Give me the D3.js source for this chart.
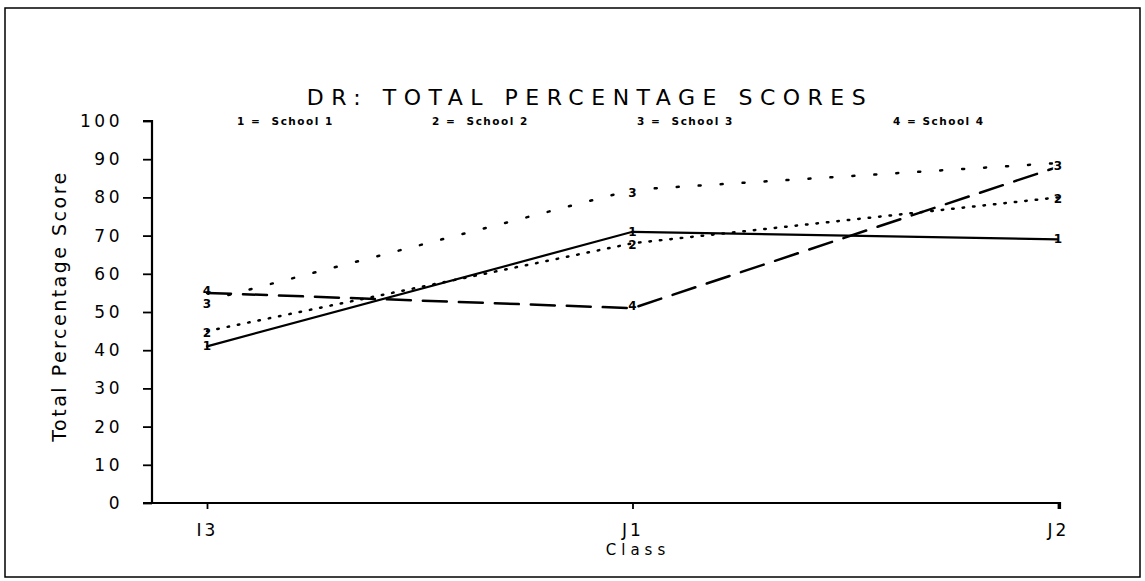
<!DOCTYPE html>
<html>
<head>
    <meta charset="utf-8" />
    <title>DR: Total Percentage Scores</title>
    <style>
        body { margin: 0; background: #fff; }
        svg text { font-family: "DejaVu Sans", sans-serif; fill: #000; }
    </style>
    <script src="https://d3js.org/d3.v7.min.js"></script>
</head>
<body>
<svg id="chart"></svg>
<script>

// data
let classes = ["I3", "J1", "J2"];
let schools = ["School 1", "School 2", "School 3", "School 4"];
let school1 = [41, 71, 69];
let school2 = [45, 68, 80];
let school3 = [53, 82, 89];
let school4 = [55, 51, 88];
let yTicks = [0, 10, 20, 30, 40, 50, 60, 70, 80, 90, 100];

let series = [school1, school2, school3, school4];
let dashes = [null, "1.5 9", "2 20", "24 12"];

let W = 1145, H = 581;
let svg = d3.select("#chart").attr("width", W).attr("height", H);

// outer frame
svg.append("rect")
    .attr("x", 5).attr("y", 8)
    .attr("width", 1135).attr("height", 569)
    .attr("fill", "none").attr("stroke", "#000").attr("stroke-width", 1.5);

let x = d3.scalePoint().domain(classes).range([207, 1058]);
let y = d3.scaleLinear().domain([0, 100]).range([503, 121]);

// y axis
let yAxis = svg.append("g")
    .attr("transform", "translate(152,0)")
    .call(d3.axisLeft(y).tickValues(yTicks).tickSize(9).tickPadding(20));
yAxis.select(".domain").attr("stroke-width", 2.2).attr("d", "M-9,121H0V503");
yAxis.selectAll(".tick line").attr("stroke-width", 1.8);
yAxis.selectAll("text")
    .style("font-size", "17px")
    .style("letter-spacing", "3.5px")
    .style("font-family", "\"DejaVu Sans\", sans-serif");

// x axis
let xAxis = svg.append("g")
    .attr("transform", "translate(0,503)")
    .call(d3.axisBottom(x).tickSize(6).tickPadding(15));
xAxis.select(".domain").attr("stroke-width", 2.2).attr("d", "M143,0H1060V6");
xAxis.selectAll(".tick line").attr("stroke-width", 1.8);
xAxis.selectAll("text")
    .style("font-size", "17px")
    .style("letter-spacing", "3px")
    .style("font-family", "\"DejaVu Sans\", sans-serif");

// titles
svg.append("text")
    .attr("x", 590).attr("y", 105)
    .attr("text-anchor", "middle")
    .style("font-size", "22px")
    .style("letter-spacing", "7.5px")
    .text("DR:  TOTAL  PERCENTAGE  SCORES");

svg.append("text")
    .attr("x", 638).attr("y", 555)
    .attr("text-anchor", "middle")
    .style("font-size", "15px")
    .style("letter-spacing", "5px")
    .text("Class");

svg.append("text")
    .attr("transform", "translate(66,306) rotate(-90)")
    .attr("text-anchor", "middle")
    .style("font-size", "19px")
    .style("letter-spacing", "2.5px")
    .text("Total Percentage Score");

// legend
let legendX = [237, 432, 637, 893];
svg.selectAll(".legend")
    .data(schools)
    .enter()
    .append("text")
    .attr("class", "legend")
    .attr("x", (d, i) => legendX[i])
    .attr("y", 125)
    .style("font-size", "10.5px")
    .style("font-weight", "bold")
    .style("letter-spacing", "1.5px")
    .attr("xml:space", "preserve")
    .text((d, i) => (i + 1) + (i == 3 ? " = " : " =  ") + d);

// lines
let line = d3.line()
    .x((d, i) => x(classes[i]))
    .y(d => y(d));

svg.selectAll(".series")
    .data(series)
    .enter()
    .append("path")
    .attr("class", "series")
    .attr("d", line)
    .attr("fill", "none")
    .attr("stroke", "#000")
    .attr("stroke-width", (d, i) => i == 0 ? 2.2 : 2.5)
    .attr("stroke-linecap", "round")
    .attr("stroke-dasharray", (d, i) => dashes[i]);

// point markers: the school number at each point, drawn 4 first so 3 sits on top
let nudge = [0, 2, 3, -2];
[3, 0, 1, 2].forEach(si => {
    svg.selectAll(".mark" + si)
        .data(series[si])
        .enter()
        .append("text")
        .attr("class", "mark" + si)
        .attr("x", (d, i) => x(classes[i]))
        .attr("y", d => y(d) + 4 + nudge[si])
        .attr("text-anchor", "middle")
        .style("font-size", "12px")
        .style("font-weight", "bold")
        .style("stroke", "#fff")
        .style("stroke-width", si == 2 ? 3 : 0)
        .style("paint-order", "stroke")
        .text(si + 1);
});

</script>
</body>
</html>
